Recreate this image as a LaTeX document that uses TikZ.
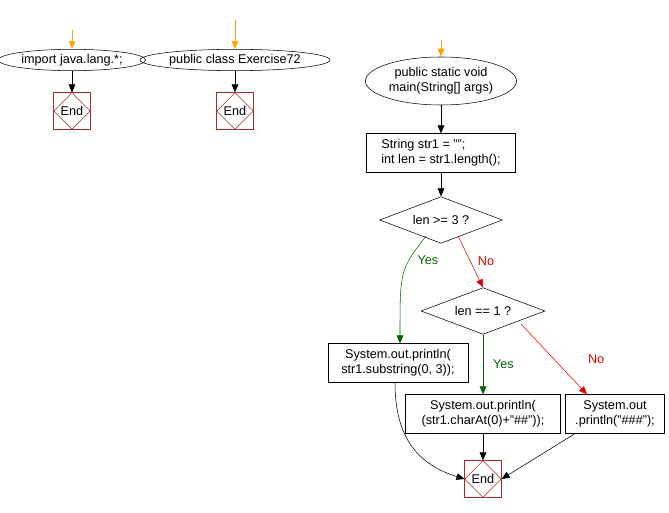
\documentclass[tikz,border=0pt]{standalone}
\usepackage{fontspec}
\setmainfont{Liberation Sans}
\usetikzlibrary{shapes.geometric,arrows.meta}
\definecolor{endred}{HTML}{A03030}
\definecolor{yesgreen}{HTML}{006400}
\definecolor{nored}{HTML}{E00000}
\definecolor{startor}{HTML}{FFA500}
\tikzset{
  every node/.style={font=\fontsize{9.5}{11}\selectfont},
  term/.style={ellipse,draw,inner sep=1pt,align=center},
  proc/.style={draw,align=left,inner sep=2pt},
  dec/.style={diamond,draw,aspect=2.7,inner sep=1pt},
  endbox/.style={draw=endred,minimum width=27.5pt,minimum height=27.5pt,inner sep=0pt,
    path picture={\draw[endred] (path picture bounding box.north) -- (path picture bounding box.east) -- (path picture bounding box.south) -- (path picture bounding box.west) -- cycle;}},
  arr/.style={-{Triangle[length=6pt,width=5pt]}},
  oarr/.style={arr,draw=startor,fill=startor},
  yes/.style={text=yesgreen},
  no/.style={text=nored},
}
\begin{document}
\begin{tikzpicture}[x=0.75pt,y=-0.75pt]
\useasboundingbox (0,0) rectangle (669,513);
\node[term,minimum width=100pt,minimum height=16pt] (imp) at (72,60) {import java.lang.*;};
\node[endbox] (e1) at (72,111) {End};
\coordinate (s1) at (72,30);
\node[term,minimum width=131pt,minimum height=16pt] (cls) at (235,60) {public class Exercise72};
\node[endbox] (e2) at (235,111) {End};
\coordinate (s2) at (235,20);
\node[term,minimum width=112pt,minimum height=36pt] (main) at (441,81) {public static void\\main(String[] args)};
\coordinate (s3) at (441,40);
\node[proc,minimum width=112pt,minimum height=29pt] (init) at (441,153) {String str1 = "";\\int len = str1.length();};
\node[dec,minimum width=92pt,minimum height=35pt] (d1) at (441,220) {len >= 3 ?};
\node[dec,minimum width=93pt,minimum height=35pt] (d2) at (483,311) {len == 1 ?};
\node[proc,align=center,minimum width=105pt,minimum height=29pt] (b1) at (398,363) {System.out.println(\\str1.substring(0, 3));};
\node[proc,align=center,minimum width=116pt,minimum height=29pt] (b2) at (483,414) {System.out.println(\\(str1.charAt(0)+"\#\#"));};
\node[proc,align=center,minimum width=74pt,minimum height=29pt] (b3) at (615,414) {System.out\\.println("\#\#\#");};
\node[endbox] (e3) at (483,479) {End};

\draw[oarr,draw=startor] (s1) -- (imp);
\draw[oarr,draw=startor] (s2) -- (cls);
\draw[oarr,draw=startor] (s3) -- (main);
\draw[arr] (imp) -- (e1);
\draw[arr] (cls) -- (e2);
\draw[arr] (main) -- (init);
\draw[arr] (init) -- (d1);
\draw[arr,yesgreen] (426,236) .. controls (400,270) .. (b1.north -| 400,0) node[pos=0.3,right=3pt,yes]{Yes};
\draw[arr,nored] (458,236) -- (d2.north) node[midway,right=2pt,no]{No};
\draw[arr,yesgreen] (d2.south) -- (b2.north) node[midway,right=4pt,yes]{Yes};
\draw[arr,nored] (521,324) -- (b3.north -| 587,0) node[midway,right=22pt,no]{No};
\draw[arr] (b1.south -| 395,0) .. controls (395,440) and (420,465) .. (e3.west);
\draw[arr] (b2) -- (e3);
\draw[arr] (b3.south -| 575,0) -- (e3.east);
\end{tikzpicture}
\end{document}
